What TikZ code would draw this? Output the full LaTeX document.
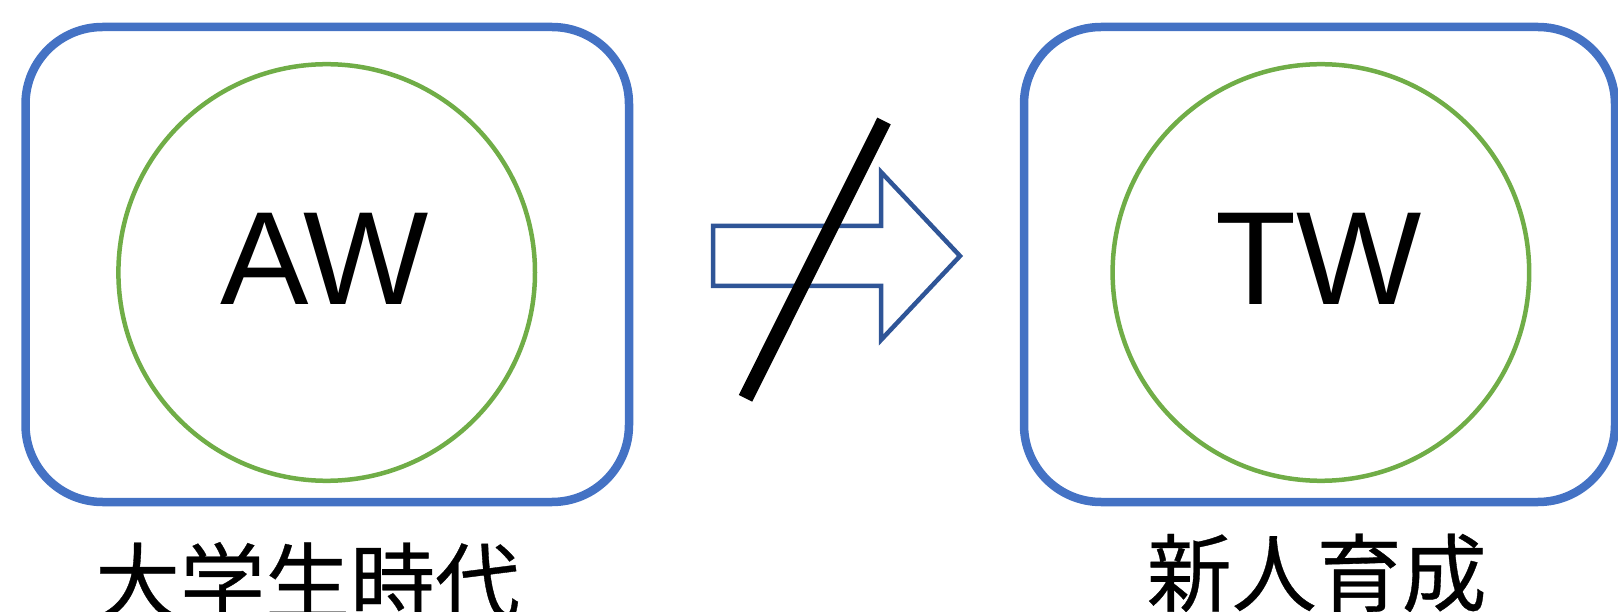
\documentclass[tikz,border=0pt]{standalone}
\usepackage{fontspec}
\setmainfont{Liberation Sans}
\newfontfamily\cjk[FakeBold=0.4]{Noto Sans CJK JP}
\definecolor{boxblue}{HTML}{4472C4}
\definecolor{ringgreen}{HTML}{70AD47}
\definecolor{arrowblue}{HTML}{2F5597}
\tikzset{
  frame/.style={draw=boxblue, line width=8.5pt, rectangle, rounded corners=77pt, inner sep=0pt, minimum height=475pt},
  ring/.style={draw=ringgreen, line width=4.5pt, circle, inner sep=0pt, minimum size=416.6pt},
  bigtext/.style={inner sep=0pt, anchor=base, font=\fontsize{132.7}{140}\selectfont},
  caption/.style={inner sep=0pt, anchor=base, font=\cjk\fontsize{85}{90}\selectfont},
  blockarrow/.style={draw=arrowblue, line width=4.5pt, line join=miter},
  strike/.style={draw=black, line width=15pt}
}
\begin{document}
\begin{tikzpicture}[x=1pt,y=-1pt]
  \useasboundingbox (0,0) rectangle (1618,612);
  % left panel
  \node[frame, minimum width=603.5pt] (boxA) at (327.25,264.5) {};
  \node[ring] (ringA) at (326.7,272.5) {};
  \node[bigtext] (txtA) at (324.5,305) {AW};
  \node[caption] (capA) at (307.5,614) {大学生時代};
  % right panel
  \node[frame, minimum width=591pt] (boxB) at (1319.5,264.5) {};
  \node[ring] (ringB) at (1320.9,272.5) {};
  \node[bigtext] (txtB) at (1319,305) {TW};
  \node[caption] (capB) at (1316.7,605) {新人育成};
  % block arrow between the panels
  \coordinate (a1) at (713,226);
  \coordinate (a2) at (881,226);
  \coordinate (a3) at (881,172);
  \coordinate (tip) at (960,256);
  \coordinate (a5) at (881,340);
  \coordinate (a6) at (881,286);
  \coordinate (a7) at (713,286);
  \draw[blockarrow] (a1) -- (a2) -- (a3) -- (tip) -- (a5) -- (a6) -- (a7) -- cycle;
  % slash crossing out the arrow
  \coordinate (s1) at (884,121);
  \coordinate (s2) at (745.5,398.3);
  \draw[strike] (s1) -- (s2);
\end{tikzpicture}
\end{document}
